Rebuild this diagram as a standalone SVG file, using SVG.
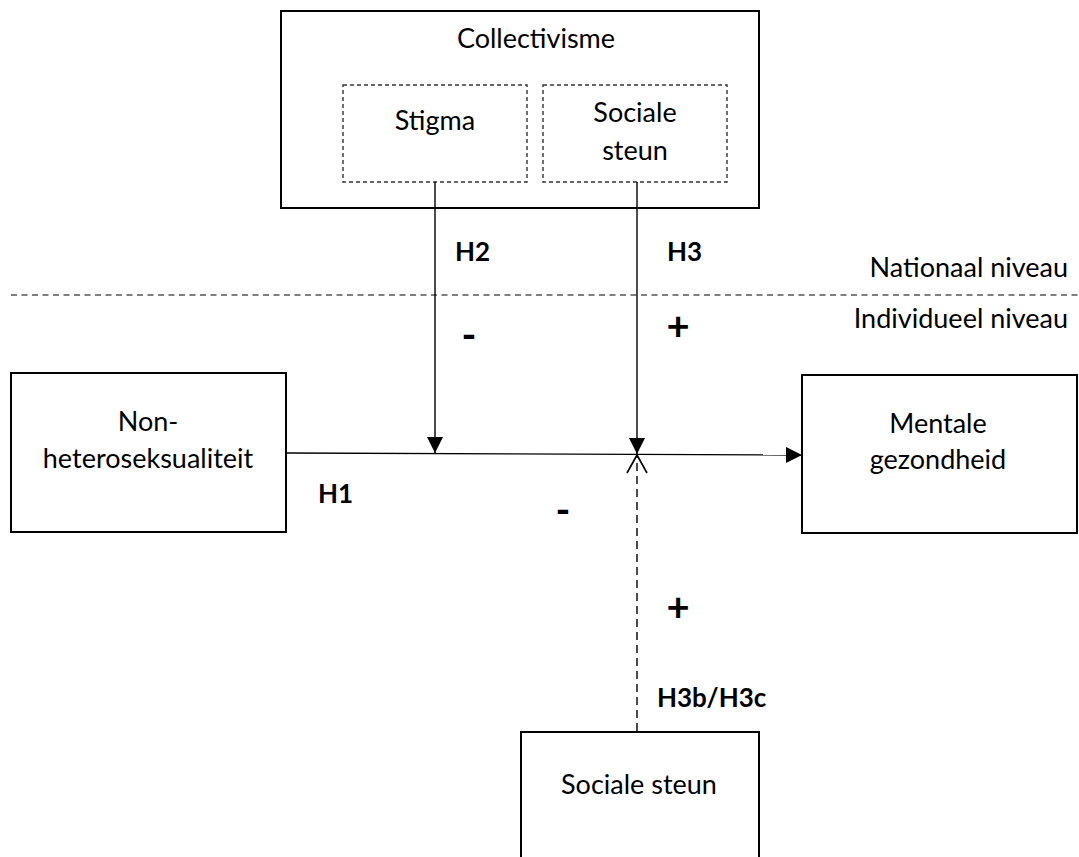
<svg xmlns="http://www.w3.org/2000/svg" width="1079" height="857" viewBox="0 0 1079 857">
<style>
.box{fill:#fff;stroke:#000;stroke-width:2}
.dbox{fill:#fff;stroke:#333;stroke-width:1.4;stroke-dasharray:4 3}
.t{font-family:Lato,"Liberation Sans",sans-serif;font-size:27px;fill:#000;text-anchor:middle}
.b{font-family:Lato,"Liberation Sans",sans-serif;font-size:26px;font-weight:bold;fill:#000}
.sign{font-family:Lato,"Liberation Sans",sans-serif;font-size:40px;font-weight:bold;fill:#000;text-anchor:middle}
.ln{stroke:#000;stroke-width:1.4;fill:none}
</style>
<defs>
<marker id="fa" markerUnits="userSpaceOnUse" markerWidth="18" markerHeight="18" refX="16" refY="8" orient="auto"><path d="M0,0 L16,8 L0,16 Z" fill="#000"/></marker>
<marker id="oa" markerUnits="userSpaceOnUse" markerWidth="22" markerHeight="24" refX="19" refY="11" orient="auto"><path d="M1,1 L19,11 L1,21" fill="none" stroke="#000" stroke-width="1.6"/></marker>
</defs>
<rect x="0" y="0" width="1079" height="857" fill="#fff"/>
<g id="collectivisme">
<rect class="box" x="281" y="11" width="478" height="197"/>
<text class="t" x="536" y="48">Collectivisme</text>
</g>
<g id="stigma">
<rect class="dbox" x="343" y="85" width="184" height="97"/>
<text class="t" x="435" y="130">Stigma</text>
</g>
<g id="sociale-steun-nat">
<rect class="dbox" x="543" y="85" width="184" height="97"/>
<text class="t" x="635" y="122">Sociale</text>
<text class="t" x="635" y="160">steun</text>
</g>
<g id="levels">
<line x1="11" y1="295" x2="1079" y2="295" stroke="#000" stroke-width="1.2" stroke-dasharray="6 4.5"/>
<text class="t" x="1068" y="277" style="text-anchor:end">Nationaal niveau</text>
<text class="t" x="1068" y="328" style="text-anchor:end">Individueel niveau</text>
</g>
<g id="non-hetero">
<rect class="box" x="11" y="373" width="275" height="159"/>
<text class="t" x="148" y="431">Non-</text>
<text class="t" x="148" y="468">heteroseksualiteit</text>
</g>
<g id="mentale">
<rect class="box" x="802" y="375" width="275" height="158"/>
<text class="t" x="938" y="433">Mentale</text>
<text class="t" x="938" y="469">gezondheid</text>
</g>
<g id="sociale-steun-ind">
<rect class="box" x="521" y="732" width="238" height="140"/>
<text class="t" x="639" y="794">Sociale steun</text>
</g>
<g id="connectors">
<line class="ln" x1="287" y1="453" x2="802" y2="455" marker-end="url(#fa)"/>
<line class="ln" x1="435" y1="182" x2="435" y2="453" marker-end="url(#fa)"/>
<line class="ln" x1="637" y1="182" x2="637" y2="454" marker-end="url(#fa)"/>
<line class="ln" x1="637" y1="731" x2="637" y2="455" stroke-dasharray="8 5" marker-end="url(#oa)"/>
</g>
<g id="labels">
<text class="b" x="455" y="261">H2</text>
<text class="b" x="667" y="261">H3</text>
<text class="b" x="318" y="503">H1</text>
<text class="b" x="657" y="707">H3b/H3c</text>
<text class="sign" x="469" y="349">-</text>
<text class="sign" x="678" y="340">+</text>
<text class="sign" x="563" y="524">-</text>
<text class="sign" x="678" y="621">+</text>
</g>
</svg>
